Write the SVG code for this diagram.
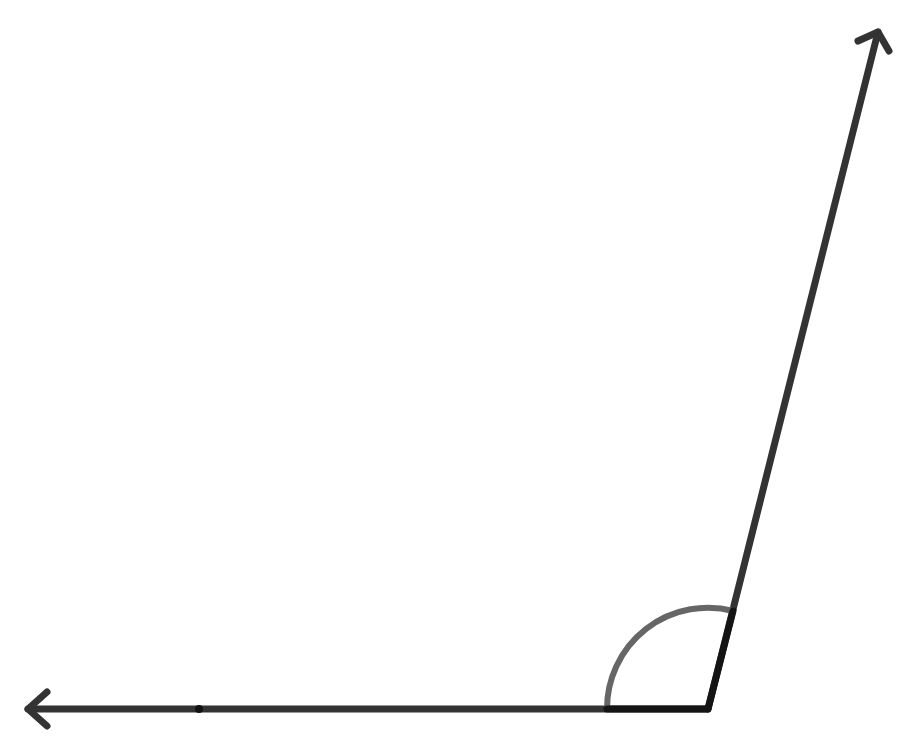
<svg xmlns="http://www.w3.org/2000/svg" width="913" height="756" viewBox="0 0 913 756">
<style>
.ray{fill:none;stroke:#333;stroke-width:7;stroke-linecap:round;stroke-linejoin:round}
.arc{fill:none;stroke:#666;stroke-width:6}
.edge{fill:none;stroke:#141414;stroke-width:7;stroke-linecap:round;stroke-linejoin:round}
</style>
<rect width="913" height="756" fill="#fff"/>
<g id="connectors">
<path class="ray" d="M708,709 L28,709"/>
<path class="ray" d="M47,692 L28,709 L47,726"/>
<path class="ray" d="M708,709 L878,32"/>
<path class="ray" d="M858,41 L878,32 L889,51"/>
</g>
<g id="angle">
<path class="arc" d="M607,709 A101,101 0 0 1 733.5,611"/>
<path class="edge" d="M607,709 L708,709 L733,611"/>
</g>
<g id="point">
<circle cx="199" cy="709" r="4" fill="#111"/>
</g>
</svg>
